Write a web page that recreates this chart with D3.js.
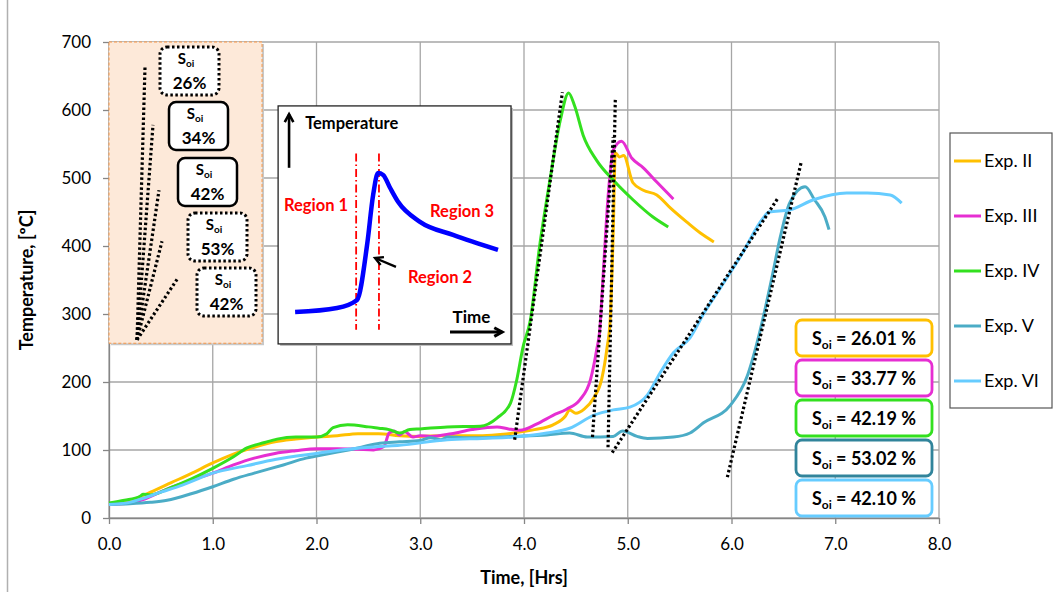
<!DOCTYPE html>
<html lang="en">
<head>
<meta charset="UTF-8">
<title>Temperature vs Time</title>
<script src="https://d3js.org/d3.v7.min.js"></script>
<style>
    body { margin: 0; background: #fff; }
    svg { display: block; font-family: Lato, "Open Sans", sans-serif; }
</style>
<script>
    const xTicks = [0, 1, 2, 3, 4, 5, 6, 7, 8];
    const yTicks = [0, 100, 200, 300, 400, 500, 600, 700];

    const expNames = ["Exp. II", "Exp. III", "Exp. IV", "Exp. V", "Exp. VI"];
    const expColors = ["#FFC000", "#E62ED2", "#33E01F", "#4BACC6", "#66CCFF"];
    const soiValues = ["26.01", "33.77", "42.19", "53.02", "42.10"];
    const soiBorders = ["#FFC000", "#E62ED2", "#33E01F", "#31849B", "#66CCFF"];

    // [time hrs, temperature C]
    const expII = [[0,20],[0.2,25],[0.4,38],[0.6,52],[0.8,66],[1.0,81],[1.2,94],[1.4,104],[1.6,112],[1.8,116],[2.0,119],[2.2,121],[2.4,124],[2.6,124],[2.8,121],[3.0,120],[3.2,121],[3.4,121],[3.6,121],[3.8,123],[3.9,125],[4.1,130],[4.28,137],[4.4,150],[4.44,159],[4.5,154],[4.58,160],[4.67,176],[4.75,205],[4.8,250],[4.83,290],[4.86,420],[4.88,537],[4.92,531],[4.96,533],[5.05,493],[5.15,482],[5.28,475],[5.41,456],[5.57,435],[5.70,419],[5.83,406]];
    const expIII = [[0,20],[0.2,22],[0.35,28],[0.45,35],[0.6,45],[0.8,56],[1.0,66],[1.2,78],[1.4,88],[1.6,95],[1.8,99],[2.0,102],[2.2,102],[2.4,101],[2.55,100],[2.65,105],[2.7,125],[2.75,128],[2.8,122],[2.85,127],[2.93,119],[3.0,121],[3.1,120],[3.3,124],[3.5,130],[3.74,134],[3.85,131],[3.96,129],[4.12,138],[4.28,151],[4.41,160],[4.54,174],[4.64,203],[4.70,247],[4.73,276],[4.76,350],[4.81,472],[4.86,541],[4.94,554],[5.04,529],[5.15,515],[5.28,494],[5.44,469]];
    const expIV = [[0,22],[0.15,26],[0.3,32],[0.33,35],[0.4,34],[0.6,45],[0.8,58],[1.0,73],[1.2,90],[1.33,103],[1.5,111],[1.62,116],[1.8,119],[2.0,119],[2.1,124],[2.16,133],[2.3,137],[2.5,134],[2.6,132],[2.7,130],[2.8,125],[2.9,130],[3.0,131],[3.26,134],[3.58,135],[3.74,147],[3.87,169],[3.93,203],[3.99,251],[4.06,290],[4.15,399],[4.25,497],[4.35,585],[4.43,625],[4.49,605],[4.57,563],[4.70,526],[4.86,497],[5.05,468],[5.24,443],[5.39,428]];
    const expV = [[0,20],[0.2,21],[0.4,23],[0.56,26],[0.8,36],[1.0,46],[1.2,57],[1.4,66],[1.68,78],[1.9,88],[2.0,91],[2.2,97],[2.4,103],[2.61,110],[2.8,112],[3.0,114],[3.1,118],[3.2,115],[3.26,119],[3.5,118],[3.9,120],[4.22,122],[4.44,125],[4.61,119],[4.86,120],[4.95,128],[5.09,120],[5.19,117],[5.44,119],[5.6,125],[5.73,140],[5.99,166],[6.15,208],[6.27,272],[6.39,354],[6.47,413],[6.56,463],[6.71,487],[6.80,468],[6.9,443],[6.94,424]];
    const expVI = [[0,20],[0.2,23],[0.33,29],[0.5,38],[0.7,48],[1.0,66],[1.33,77],[1.6,86],[2.0,95],[2.3,101],[2.61,105],[2.8,107],[3.26,115],[3.6,117],[3.9,119],[4.22,125],[4.44,132],[4.67,151],[4.86,159],[5.02,163],[5.19,181],[5.31,213],[5.44,243],[5.6,265],[5.73,300],[5.9,340],[6.1,388],[6.3,440],[6.36,450],[6.56,453],[6.79,468],[7.11,478],[7.31,478],[7.53,475],[7.64,463]];

    // dotted tangent lines, [start, end]
    const tangents = [
        [[3.91,115],[4.37,626]],
        [[4.66,119],[4.86,560]],
        [[4.81,104],[4.88,615]],
        [[4.85,96],[6.45,471]],
        [[5.96,60],[6.67,522]]
    ];

    // top-left inset: fan of slopes
    const fanOrigin = [0.27, 262];
    const fanEnds = [[0.347,663],[0.424,578],[0.482,482],[0.511,407],[0.665,353]];
    const fanLabels = ["26%", "34%", "42%", "53%", "42%"];
    const fanDotted = [true, false, false, true, true];

    // schematic curve in the middle inset, unit coordinates
    const sketchCurve = [[0.073,0.134],[0.253,0.151],[0.339,0.185],[0.382,0.416],[0.408,0.626],[0.429,0.718],[0.451,0.710],[0.481,0.655],[0.515,0.597],[0.609,0.513],[0.751,0.458],[0.944,0.395]];
    const sketchBounds = [0.335, 0.433];

    document.addEventListener("DOMContentLoaded", () => drawChart());

    function drawChart() {
        const width = 1060, height = 592;
        const margin = {top: 42, right: 121, bottom: 74, left: 109};

        const svg = d3.select("#chart").attr("width", width).attr("height", height);

        const x = d3.scaleLinear().domain([0, 8]).range([margin.left, width - margin.right]);
        const y = d3.scaleLinear().domain([0, 700]).range([height - margin.bottom, margin.top]);

        // outer frame edge
        svg.append("line").attr("x1", 7.5).attr("x2", 7.5).attr("y1", 0).attr("y2", height)
            .attr("stroke", "#b0b0b0").attr("stroke-width", 1.5);

        // grid
        svg.append("g").selectAll("line").data(yTicks).enter().append("line")
            .attr("x1", x(0)).attr("x2", x(8))
            .attr("y1", d => y(d)).attr("y2", d => y(d))
            .attr("stroke", "#a6a6a6").attr("stroke-width", 1.3);
        svg.append("g").selectAll("line").data(xTicks).enter().append("line")
            .attr("x1", d => x(d)).attr("x2", d => x(d))
            .attr("y1", y(0)).attr("y2", y(700))
            .attr("stroke", "#a6a6a6").attr("stroke-width", 1.3);

        // axes
        const yAxis = svg.append("g").attr("transform", `translate(${x(0)},0)`)
            .call(d3.axisLeft(y).tickValues(yTicks).tickSize(6).tickPadding(12).tickSizeOuter(0));
        const xAxis = svg.append("g").attr("transform", `translate(0,${y(0)})`)
            .call(d3.axisBottom(x).tickValues(xTicks).tickFormat(d3.format(".1f")).tickSize(6).tickPadding(14).tickSizeOuter(0));
        [xAxis, yAxis].forEach(a => {
            a.select(".domain").attr("stroke", "#868686").attr("stroke-width", 1.3);
            a.selectAll(".tick line").attr("stroke", "#868686").attr("stroke-width", 1.3);
            a.selectAll("text").attr("font-size", 17).attr("fill", "#000").attr("font-family", "Lato, sans-serif");
        });

        svg.append("text").attr("x", x(4)).attr("y", 584).attr("text-anchor", "middle")
            .attr("font-size", 18).attr("font-weight", "bold").text("Time, [Hrs]");
        svg.append("text").attr("transform", `translate(33,${y(350)}) rotate(-90)`)
            .attr("text-anchor", "middle").attr("font-size", 18).attr("font-weight", "bold")
            .text("Temperature, [ºC]");

        // top-left inset
        const ins = svg.append("g");
        ins.append("rect").attr("x", x(0) + 2).attr("y", y(700) + 2)
            .attr("width", x(1.475) - x(0)).attr("height", y(257) - y(700))
            .attr("fill", "#c8c8c8");
        ins.append("rect").attr("x", x(0)).attr("y", y(700))
            .attr("width", x(1.475) - x(0)).attr("height", y(257) - y(700))
            .attr("fill", "#FDE9D9").attr("stroke", "#F79646").attr("stroke-width", 1)
            .attr("stroke-dasharray", "3,2");
        ins.selectAll("line.fan").data(fanEnds).enter().append("line")
            .attr("x1", x(fanOrigin[0])).attr("y1", y(fanOrigin[1]))
            .attr("x2", d => x(d[0])).attr("y2", d => y(d[1]))
            .attr("stroke", "#000").attr("stroke-width", 3.2).attr("stroke-dasharray", "2.5,2.5");

        const fanBoxes = [[160, 47], [169, 102], [178, 158], [188, 213], [197, 268]];
        fanBoxes.forEach((b, i) => {
            const g = ins.append("g").attr("transform", `translate(${b[0]},${b[1]})`);
            g.append("rect").attr("width", 59).attr("height", 48).attr("rx", 7)
                .attr("fill", "#fff").attr("stroke", "#000")
                .attr("stroke-width", fanDotted[i] ? 3 : 2.5)
                .attr("stroke-dasharray", fanDotted[i] ? "2.5,2.5" : null);
            const t = g.append("text").attr("x", 26).attr("y", 17).attr("text-anchor", "middle")
                .attr("font-size", 15).attr("font-weight", "bold");
            t.append("tspan").text("S");
            t.append("tspan").attr("font-size", 10).attr("dy", 3).text("oi");
            g.append("text").attr("x", 29.5).attr("y", 42).attr("text-anchor", "middle")
                .attr("font-size", 17).attr("font-weight", "bold").text(fanLabels[i]);
        });

        // middle inset (schematic)
        const box = {x0: x(1.63), x1: x(3.875), y0: y(606), y1: y(256)};
        const u = d3.scaleLinear().domain([0, 1]).range([box.x0, box.x1]);
        const v = d3.scaleLinear().domain([0, 1]).range([box.y1, box.y0]);
        const sk = svg.append("g");
        sk.append("rect").attr("x", box.x0 + 2).attr("y", box.y0 + 2)
            .attr("width", box.x1 - box.x0).attr("height", box.y1 - box.y0).attr("fill", "#bbb");
        sk.append("rect").attr("x", box.x0).attr("y", box.y0)
            .attr("width", box.x1 - box.x0).attr("height", box.y1 - box.y0)
            .attr("fill", "#fff").attr("stroke", "#222").attr("stroke-width", 1.3);
        sk.selectAll("line.bound").data(sketchBounds).enter().append("line")
            .attr("x1", d => u(d)).attr("x2", d => u(d)).attr("y1", v(0.80)).attr("y2", v(0.06))
            .attr("stroke", "#FF0000").attr("stroke-width", 1.8).attr("stroke-dasharray", "8,3,1.5,3");
        sk.append("path").datum(sketchCurve)
            .attr("d", d3.line().x(d => u(d[0])).y(d => v(d[1])).curve(d3.curveMonotoneX))
            .attr("fill", "none").attr("stroke", "#0000FF").attr("stroke-width", 4.5);

        const arrowHead = (g, x1, y1, x2, y2, w) => {
            const ang = Math.atan2(y2 - y1, x2 - x1);
            const len = 9;
            g.append("line").attr("x1", x1).attr("y1", y1).attr("x2", x2).attr("y2", y2)
                .attr("stroke", "#000").attr("stroke-width", w);
            g.append("path").attr("d", d3.line()([
                [x2 - len * Math.cos(ang - 0.5), y2 - len * Math.sin(ang - 0.5)],
                [x2, y2],
                [x2 - len * Math.cos(ang + 0.5), y2 - len * Math.sin(ang + 0.5)]
            ])).attr("fill", "none").attr("stroke", "#000").attr("stroke-width", w);
        };
        arrowHead(sk, u(0.047), v(0.74), u(0.047), v(0.965), 2.6);
        arrowHead(sk, u(0.738), v(0.05), u(0.962), v(0.05), 3);
        arrowHead(sk, u(0.506), v(0.324), u(0.416), v(0.361), 2.4);

        const skText = [
            {t: "Temperature", x: 0.116, y: 0.905, c: "#000", a: "start", s: 16.5},
            {t: "Region 1", x: 0.163, y: 0.56, c: "#FF0000", a: "middle", s: 16.5},
            {t: "Region 3", x: 0.79, y: 0.535, c: "#FF0000", a: "middle", s: 16.5},
            {t: "Region 2", x: 0.695, y: 0.257, c: "#FF0000", a: "middle", s: 16.5},
            {t: "Time", x: 0.83, y: 0.09, c: "#000", a: "middle", s: 17}
        ];
        sk.selectAll("text").data(skText).enter().append("text")
            .attr("x", d => u(d.x)).attr("y", d => v(d.y)).attr("text-anchor", d => d.a)
            .attr("font-size", d => d.s).attr("font-weight", "bold").attr("fill", d => d.c)
            .text(d => d.t);

        // experiment curves
        const series = [expII, expIII, expIV, expV, expVI];
        const line = d3.line().x(d => x(d[0])).y(d => y(d[1])).curve(d3.curveMonotoneX);
        svg.append("g").selectAll("path").data(series).enter().append("path")
            .attr("d", line).attr("fill", "none")
            .attr("stroke", (d, i) => expColors[i]).attr("stroke-width", 3)
            .attr("stroke-linejoin", "round");

        // tangent lines
        svg.append("g").selectAll("line").data(tangents).enter().append("line")
            .attr("x1", d => x(d[0][0])).attr("y1", d => y(d[0][1]))
            .attr("x2", d => x(d[1][0])).attr("y2", d => y(d[1][1]))
            .attr("stroke", "#000").attr("stroke-width", 3.2).attr("stroke-dasharray", "2.5,2.5");

        // Soi boxes
        const soi = svg.append("g");
        soiValues.forEach((val, i) => {
            const top = 320 + i * 40;
            soi.append("rect").attr("x", 796).attr("y", top).attr("width", 136).attr("height", 36)
                .attr("rx", 6).attr("fill", "#fff").attr("stroke", soiBorders[i]).attr("stroke-width", 2.8);
            const t = soi.append("text").attr("x", 864).attr("y", top + 25).attr("text-anchor", "middle")
                .attr("font-size", 18).attr("font-weight", "bold");
            t.append("tspan").text("S");
            t.append("tspan").attr("font-size", 12).attr("dy", 4).text("oi");
            t.append("tspan").attr("dy", -4).text(" = " + val + " %");
        });

        // legend
        const leg = svg.append("g");
        leg.append("rect").attr("x", 950).attr("y", 133).attr("width", 102).attr("height", 275)
            .attr("fill", "#fff").attr("stroke", "#555").attr("stroke-width", 1.2);
        expNames.forEach((n, i) => {
            const ly = 161 + i * 55;
            leg.append("line").attr("x1", 954).attr("x2", 981).attr("y1", ly).attr("y2", ly)
                .attr("stroke", expColors[i]).attr("stroke-width", 3);
            leg.append("text").attr("x", 984).attr("y", ly + 6).attr("font-size", 18).text(n);
        });
    }
</script>
</head>
<body>
    <svg id="chart"></svg>
</body>
</html>
